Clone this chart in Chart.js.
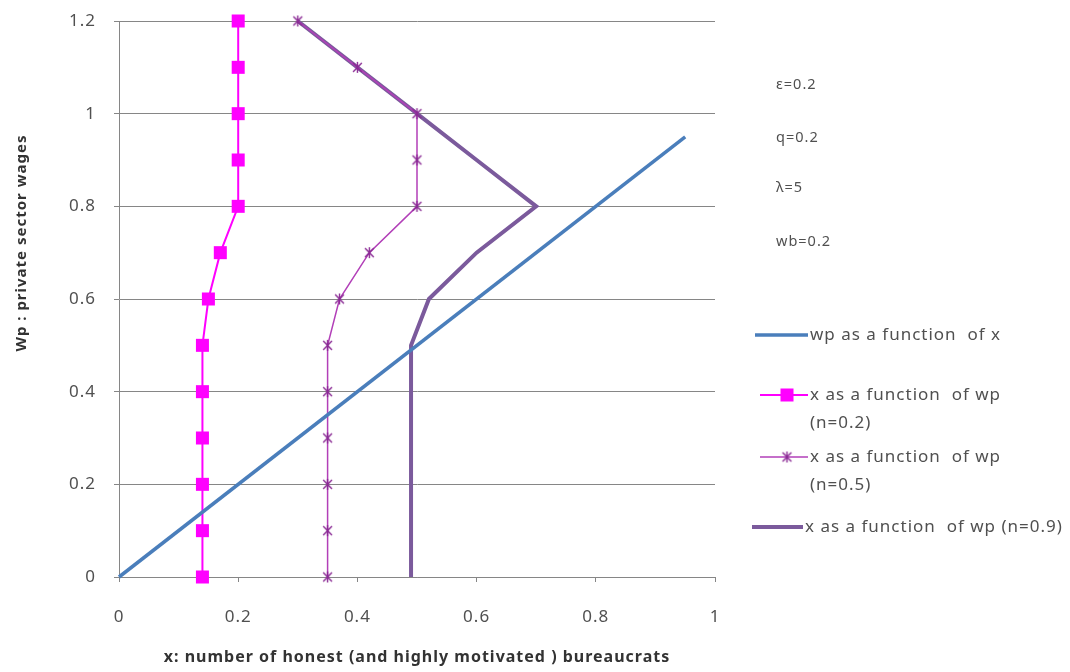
<!DOCTYPE html>
<html>
<head>
<meta charset="utf-8">
<script src="https://cdn.jsdelivr.net/npm/chart.js@4/dist/chart.umd.min.js"></script>
<style>body{margin:0;background:#fff}</style>
</head>
<body>
<canvas id="myChart" width="1070" height="672"></canvas>
<script>
// wp levels shared by the three "x as a function of wp" curves
var wpLevels = [0, 0.1, 0.2, 0.3, 0.4, 0.5, 0.6, 0.7, 0.8, 0.9, 1.0, 1.1, 1.2];
var xN02 = [0.14, 0.14, 0.14, 0.14, 0.14, 0.14, 0.15, 0.17, 0.2, 0.2, 0.2, 0.2, 0.2];
var xN05 = [0.35, 0.35, 0.35, 0.35, 0.35, 0.35, 0.37, 0.42, 0.5, 0.5, 0.5, 0.4, 0.3];
var xN09 = [0.49, 0.49, 0.49, 0.49, 0.49, 0.49, 0.52, 0.6, 0.7, 0.6, 0.5, 0.4, 0.3];
// wp as a function of x
var lineX = [0, 0.95];
var lineWp = [0, 0.95];

var xTicks = [0, 0.2, 0.4, 0.6, 0.8, 1];
var yTicks = [0, 0.2, 0.4, 0.6, 0.8, 1, 1.2];
var params = ['ε=0.2', 'q=0.2', 'λ=5', 'wb=0.2'];
var names = ['wp as a function  of x', 'x as a function  of wp (n=0.2)', 'x as a function  of wp (n=0.5)', 'x as a function  of wp (n=0.9)'];

var FONT = '"Noto Sans", sans-serif';
var TXT = '#505050';

function pts(xs, ys) {
  return xs.map(function (x, i) { return {x: x, y: ys[i]}; });
}

// excel style star marker: an x with a vertical bar
function starImg(size, color) {
  var c = document.createElement('canvas');
  c.width = size; c.height = size;
  var g = c.getContext('2d');
  g.strokeStyle = color; g.lineWidth = 1.4;
  var m = size / 2, r = size / 2 - 1;
  g.beginPath();
  g.moveTo(m - r * 0.8, m - r * 0.8); g.lineTo(m + r * 0.8, m + r * 0.8);
  g.moveTo(m + r * 0.8, m - r * 0.8); g.lineTo(m - r * 0.8, m + r * 0.8);
  g.moveTo(m, m - r); g.lineTo(m, m + r);
  g.stroke();
  return c;
}
var star = starImg(13, '#8a2a94');

var extras = {
  id: 'extras',
  beforeUpdate: function (chart) {
    // the excel text is loosely spaced
    chart.ctx.letterSpacing = '1px';
  },
  afterDraw: function (chart) {
    var ctx = chart.ctx;
    ctx.save();
    ctx.letterSpacing = '1px';
    ctx.fillStyle = TXT;
    ctx.textBaseline = 'middle';
    ctx.textAlign = 'left';
    ctx.font = '14.5px ' + FONT;
    var py = [85, 138, 188, 242];
    params.forEach(function (p, i) { ctx.fillText(p, 776, py[i]); });

    // legend
    ctx.font = '17px ' + FONT;
    var ds = chart.data.datasets;
    var rows = [
      {y: 335, x0: 755, x1: 808, tx: 810, lines: [names[0]]},
      {y: 395, x0: 760, x1: 808, tx: 810, lines: ['x as a function  of wp', '(n=0.2)']},
      {y: 457, x0: 760, x1: 808, tx: 810, lines: ['x as a function  of wp', '(n=0.5)']},
      {y: 527, x0: 752, x1: 803, tx: 805, lines: [names[3]]}
    ];
    rows.forEach(function (r, i) {
      ctx.strokeStyle = ds[i].borderColor;
      ctx.lineWidth = ds[i].borderWidth;
      ctx.beginPath(); ctx.moveTo(r.x0, r.y); ctx.lineTo(r.x1, r.y); ctx.stroke();
      var mx = (r.x0 + r.x1) / 2 + 3;
      if (i === 1) {
        ctx.fillStyle = '#ff00ff';
        ctx.fillRect(mx - 6.5, r.y - 6.5, 13, 13);
      }
      if (i === 2) ctx.drawImage(star, mx - 6.5, r.y - 6.5);
      ctx.fillStyle = TXT;
      r.lines.forEach(function (t, k) { ctx.fillText(t, r.tx, r.y + k * 28); });
    });

    // y axis title
    ctx.translate(22, 243);
    ctx.rotate(-Math.PI / 2);
    ctx.textAlign = 'center';
    ctx.font = 'bold 15px ' + FONT;
    ctx.fillStyle = '#333';
    ctx.fillText('Wp : private sector wages', 0, 0);
    ctx.restore();
  }
};

var ctx = document.getElementById('myChart').getContext('2d');
var chart = new Chart(ctx, {
  type: 'scatter',
  data: {
    datasets: [{
      label: names[0],
      data: pts(lineX, lineWp),
      showLine: true,
      clip: false,
      borderColor: '#4a7ebb',
      borderWidth: 3.5,
      pointRadius: 0
    }, {
      label: names[1],
      data: pts(xN02, wpLevels),
      showLine: true,
      clip: false,
      borderColor: '#ff00ff',
      backgroundColor: '#ff00ff',
      borderWidth: 2,
      pointStyle: 'rect',
      pointRadius: 9.2,
      pointBorderWidth: 0
    }, {
      label: names[2],
      data: pts(xN05, wpLevels),
      showLine: true,
      clip: false,
      borderColor: '#b23fb8',
      borderWidth: 1.5,
      pointStyle: star,
      pointRadius: 6
    }, {
      label: names[3],
      data: pts(xN09, wpLevels),
      showLine: true,
      clip: false,
      borderColor: '#7b5a9c',
      borderWidth: 4,
      pointRadius: 0
    }]
  },
  options: {
    responsive: false,
    devicePixelRatio: 1,
    animation: false,
    layout: { padding: { left: 0, right: 355, top: 21, bottom: 0 } },
    plugins: {
      legend: { display: false },
      tooltip: { enabled: false }
    },
    scales: {
      x: {
        type: 'linear',
        min: 0, max: 1,
        afterFit: function (s) { s.height = 95; s.paddingLeft = 0; s.paddingRight = 0; },
        afterBuildTicks: function (s) { s.ticks = xTicks.map(function (v) { return {value: v}; }); },
        grid: { drawOnChartArea: false, drawTicks: true, tickLength: 5, color: '#868686' },
        border: { color: '#868686' },
        ticks: { color: TXT, padding: 25, font: { family: FONT, size: 17 }, maxRotation: 0,
          callback: function (v) { return String(+v.toFixed(1)); } },
        title: { display: true, text: 'x: number of honest (and highly motivated ) bureaucrats',
          color: '#333', font: { family: FONT, size: 16, weight: 'bold' }, padding: { top: 0, bottom: 5 } }
      },
      y: {
        type: 'linear',
        min: 0, max: 1.2,
        afterFit: function (s) { s.width = 119; s.paddingTop = 0; s.paddingBottom = 0; },
        afterBuildTicks: function (s) { s.ticks = yTicks.map(function (v) { return {value: v}; }); },
        grid: { color: '#868686', tickLength: 5 },
        border: { color: '#868686' },
        ticks: { color: TXT, padding: 18, font: { family: FONT, size: 17 },
          callback: function (v) { return String(+v.toFixed(1)); } }
      }
    }
  },
  plugins: [extras]
});
</script>
</body>
</html>
